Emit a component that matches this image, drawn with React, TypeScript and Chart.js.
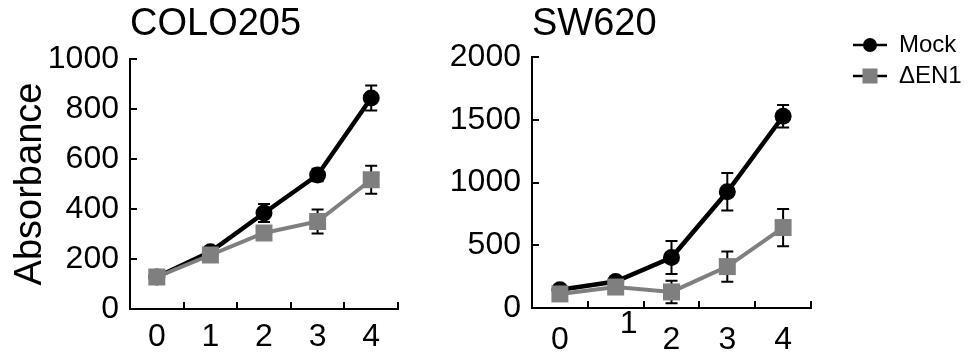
import React, { useEffect, useRef } from 'react';
import { Chart, registerables } from 'chart.js';

Chart.register(...registerables);

// ---------- data ----------
const categories = ['0', '1', '2', '3', '4'];
const seriesNames = ['Mock', 'ΔEN1'];

const coloTitle = 'COLO205';
const coloMock = [128, 229, 384, 536, 844];
const coloMockErr = [8, 10, 36, 25, 50];
const coloDen1 = [128, 216, 304, 350, 517];
const coloDen1Err = [8, 10, 15, 48, 56];
const coloYTicks = [0, 200, 400, 600, 800, 1000];

const swTitle = 'SW620';
const swMock = [145, 211, 402, 926, 1528];
const swMockErr = [20, 20, 131, 150, 90];
const swDen1 = [112, 167, 128, 330, 641];
const swDen1Err = [15, 15, 90, 120, 148];
const swYTicks = [0, 500, 1000, 1500, 2000];

const yAxisTitle = 'Absorbance';
const raisedLabelIndex = 1; // SW620 x label drawn raised in the original

// ---------- styles ----------
const FONT = "'Liberation Sans', Arial, Helvetica, sans-serif";
const BLACK = '#000000';
const GRAY = '#7f7f7f';
const TICK_SIZE = 32;

const errorBarPlugin = {
  id: 'errorBars',
  beforeDatasetsDraw(chart: any) {
    const ctx = chart.ctx;
    const ys = chart.scales.y;
    chart.data.datasets.forEach((ds: any, i: number) => {
      const errs = ds.errors;
      if (!errs) return;
      const meta = chart.getDatasetMeta(i);
      meta.data.forEach((pt: any, j: number) => {
        const v = ds.data[j];
        const e = errs[j];
        const top = ys.getPixelForValue(v + e);
        const bot = ys.getPixelForValue(v - e);
        ctx.save();
        ctx.strokeStyle = BLACK;
        ctx.lineWidth = 2;
        ctx.beginPath();
        ctx.moveTo(pt.x, top);
        ctx.lineTo(pt.x, bot);
        ctx.moveTo(pt.x - 6, top);
        ctx.lineTo(pt.x + 6, top);
        ctx.moveTo(pt.x - 6, bot);
        ctx.lineTo(pt.x + 6, bot);
        ctx.stroke();
        ctx.restore();
      });
    });
  },
};

const raisedLabelPlugin = {
  id: 'raisedLabel',
  afterDraw(chart: any) {
    const xs = chart.scales.x;
    const ctx = chart.ctx;
    ctx.save();
    ctx.font = `${TICK_SIZE}px ${FONT}`;
    ctx.fillStyle = BLACK;
    ctx.textAlign = 'center';
    ctx.textBaseline = 'middle';
    ctx.fillText(categories[raisedLabelIndex], xs.getPixelForValue(raisedLabelIndex) + 13, xs.top + 16);
    ctx.restore();
  },
};

function buildConfig(p: {
  title: string;
  mock: number[];
  mockErr: number[];
  den1: number[];
  den1Err: number[];
  yTicks: number[];
  yWidth: number;
  xHeight: number;
  padRight: number;
  titlePadTop: number;
  titlePadBottom: number;
  xLabelPad: number;
  yTitle?: string;
  hideIndex?: number;
  plugins: any[];
}) {
  const yMax = p.yTicks[p.yTicks.length - 1];
  const yStep = p.yTicks[1] - p.yTicks[0];
  return {
    type: 'line',
    data: {
      labels: categories,
      datasets: [
        {
          label: seriesNames[1],
          data: p.den1,
          errors: p.den1Err,
          borderColor: GRAY,
          backgroundColor: GRAY,
          borderWidth: 4,
          pointStyle: 'rect',
          pointRadius: 12,
          pointBorderWidth: 0,
          pointBackgroundColor: GRAY,
          tension: 0,
        },
        {
          label: seriesNames[0],
          data: p.mock,
          errors: p.mockErr,
          borderColor: BLACK,
          backgroundColor: BLACK,
          borderWidth: 4.5,
          pointStyle: 'circle',
          pointRadius: 8.5,
          pointBorderWidth: 0,
          pointBackgroundColor: BLACK,
          tension: 0,
        },
      ],
    },
    options: {
      responsive: false,
      animation: false,
      devicePixelRatio: 1,
      layout: { padding: { left: 0, right: p.padRight, top: 0, bottom: 0 } },
      plugins: {
        legend: { display: false },
        tooltip: { enabled: false },
        title: {
          display: true,
          text: p.title,
          align: 'start',
          fullSize: false,
          color: BLACK,
          font: { family: FONT, size: 38, weight: 'normal', lineHeight: 1.2 },
          padding: { top: p.titlePadTop, bottom: p.titlePadBottom },
        },
      },
      scales: {
        x: {
          type: 'category',
          offset: true,
          afterFit: (s: any) => {
            s.height = p.xHeight;
          },
          grid: {
            offset: true,
            drawOnChartArea: false,
            drawTicks: true,
            tickLength: -7,
            color: BLACK,
            lineWidth: 2,
          },
          border: { display: true, color: BLACK, width: 2 },
          ticks: {
            autoSkip: false,
            maxRotation: 0,
            padding: p.xLabelPad,
            font: { family: FONT, size: TICK_SIZE },
            color: (c: any) => (p.hideIndex !== undefined && c.index === p.hideIndex ? 'rgba(0,0,0,0)' : BLACK),
          },
        },
        y: {
          min: 0,
          max: yMax,
          afterFit: (s: any) => {
            s.width = p.yWidth;
          },
          afterBuildTicks: (s: any) => {
            s.ticks = p.yTicks.map((v) => ({ value: v }));
          },
          grid: {
            drawOnChartArea: false,
            drawTicks: true,
            tickLength: -7,
            color: BLACK,
            lineWidth: 2,
          },
          border: { display: true, color: BLACK, width: 2 },
          ticks: {
            stepSize: yStep,
            padding: 18,
            font: { family: FONT, size: TICK_SIZE },
            color: BLACK,
            callback: (v: any) => String(v),
          },
          title: p.yTitle
            ? {
                display: true,
                text: p.yTitle,
                color: BLACK,
                font: { family: FONT, size: 38, lineHeight: 1.2 },
                padding: { top: 8, bottom: 0 },
              }
            : { display: false },
        },
      },
    },
    plugins: p.plugins,
  };
}

function makeSymbol(kind: 'circle' | 'rect') {
  const c = document.createElement('canvas');
  c.width = 34;
  c.height = 20;
  const g = c.getContext('2d')!;
  g.strokeStyle = BLACK;
  g.lineWidth = 2.5;
  g.beginPath();
  g.moveTo(0, 10);
  g.lineTo(34, 10);
  g.stroke();
  if (kind === 'circle') {
    g.fillStyle = BLACK;
    g.beginPath();
    g.arc(17, 10, 7, 0, Math.PI * 2);
    g.fill();
  } else {
    g.fillStyle = GRAY;
    g.fillRect(17 - 7.5, 10 - 7.5, 15, 15);
  }
  return c;
}

export default function App() {
  const leftRef = useRef<HTMLCanvasElement>(null);
  const rightRef = useRef<HTMLCanvasElement>(null);
  const legendRef = useRef<HTMLCanvasElement>(null);

  useEffect(() => {
    const charts: Chart[] = [];
    if (leftRef.current) {
      charts.push(
        new Chart(
          leftRef.current,
          buildConfig({
            title: coloTitle,
            mock: coloMock,
            mockErr: coloMockErr,
            den1: coloDen1,
            den1Err: coloDen1Err,
            yTicks: coloYTicks,
            yWidth: 130,
            xHeight: 48,
            padRight: 32,
            titlePadTop: 1.7,
            titlePadBottom: 11.7,
            xLabelPad: 16,
            yTitle: yAxisTitle,
            plugins: [errorBarPlugin],
          }) as any
        )
      );
    }
    if (rightRef.current) {
      charts.push(
        new Chart(
          rightRef.current,
          buildConfig({
            title: swTitle,
            mock: swMock,
            mockErr: swMockErr,
            den1: swDen1,
            den1Err: swDen1Err,
            yTicks: swYTicks,
            yWidth: 102,
            xHeight: 49,
            padRight: 19,
            titlePadTop: 2.2,
            titlePadBottom: 9.2,
            xLabelPad: 20,
            hideIndex: raisedLabelIndex,
            plugins: [errorBarPlugin, raisedLabelPlugin],
          }) as any
        )
      );
    }
    if (legendRef.current) {
      const symbols = [makeSymbol('circle'), makeSymbol('rect')];
      charts.push(
        new Chart(legendRef.current, {
          type: 'line',
          data: {
            labels: [],
            datasets: seriesNames.map((n) => ({ label: n, data: [] })),
          },
          options: {
            responsive: false,
            animation: false,
            devicePixelRatio: 1,
            layout: { padding: { left: 16, top: 26, right: 0, bottom: 0 } },
            scales: { x: { display: false }, y: { display: false } },
            plugins: {
              tooltip: { enabled: false },
              legend: {
                display: true,
                position: 'top',
                align: 'start',
                labels: {
                  usePointStyle: true,
                  pointStyleWidth: 34,
                  boxHeight: 24,
                  padding: 7,
                  color: BLACK,
                  font: { family: FONT, size: 24 },
                  generateLabels: () =>
                    seriesNames.map((n, i) => ({
                      text: n,
                      pointStyle: symbols[i],
                      fillStyle: BLACK,
                      strokeStyle: BLACK,
                      lineWidth: 0,
                      hidden: false,
                      datasetIndex: i,
                      fontColor: BLACK,
                    })),
                },
              },
            },
          },
        } as any)
      );
    }
    return () => charts.forEach((c) => c.destroy());
  }, []);

  return (
    <div style={{ position: 'absolute', left: 0, top: 0, width: 969, height: 357, background: '#fff' }}>
      <canvas ref={leftRef} width={430} height={357} style={{ position: 'absolute', left: 0, top: 0 }} />
      <canvas ref={rightRef} width={400} height={357} style={{ position: 'absolute', left: 430, top: 0 }} />
      <canvas ref={legendRef} width={139} height={357} style={{ position: 'absolute', left: 830, top: 0 }} />
    </div>
  );
}
